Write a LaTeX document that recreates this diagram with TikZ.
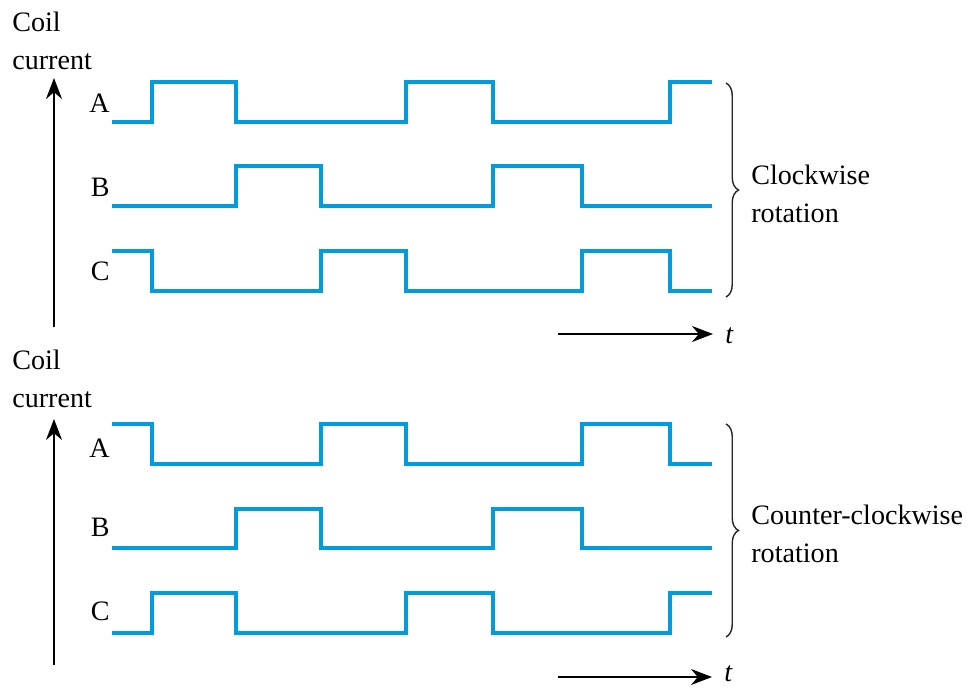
\documentclass[tikz,border=0pt]{standalone}
\usepackage{fontspec}
\setmainfont{Liberation Serif}
\usetikzlibrary{arrows.meta,decorations.pathreplacing}
\definecolor{wireblue}{RGB}{0,156,222}
\tikzset{
  wave/.style={wireblue,line width=2.2pt},
  axisarrow/.style={line width=1.1pt,-{Stealth[length=0.42cm,width=0.32cm]}},
  lbl/.style={font=\fontsize{16}{21.5}\selectfont,inner sep=0pt},
  rotbrace/.style={decorate,decoration={brace,amplitude=0.25cm},line width=0.8pt,black!85}
}
\begin{document}
\begin{tikzpicture}[x=0.02cm,y=-0.02cm]
    \useasboundingbox (0,0) rectangle (974,687);

    % clockwise
    \node[lbl,align=left,anchor=base west] (coilcw) at (12,69) {Coil\\current};
    \draw[axisarrow] (54,327) -- (54,78);

    \node[lbl,anchor=base east] (acw) at (110,112) {A};
    \node[lbl,anchor=base east] (bcw) at (110,196) {B};
    \node[lbl,anchor=base east] (ccw) at (110,280) {C};

    \draw[wave] (112,122) -- (152,122) -- (152,82) -- (236,82) -- (236,122) -- (406,122) -- (406,82) -- (493,82) -- (493,122) -- (670,122) -- (670,82) -- (712,82);
    \draw[wave] (112,206) -- (236,206) -- (236,166) -- (321,166) -- (321,206) -- (493,206) -- (493,166) -- (582,166) -- (582,206) -- (712,206);
    \draw[wave] (112,251) -- (152,251) -- (152,291) -- (321,291) -- (321,251) -- (406,251) -- (406,291) -- (582,291) -- (582,251) -- (670,251) -- (670,291) -- (712,291);

    \draw[rotbrace] (726,83) -- (726,297);
    \node[lbl,align=left,anchor=base west] (rotcw) at (751,222) {Clockwise\\rotation};

    \draw[axisarrow] (558,334) -- (713,334);
    \node[lbl,anchor=base west] (tcw) at (725,343) {\textit{t}};

    % counter-clockwise
    \node[lbl,align=left,anchor=base west] (coilccw) at (12,407) {Coil\\current};
    \draw[axisarrow] (54,665) -- (54,419);

    \node[lbl,anchor=base east] (accw) at (110,457) {A};
    \node[lbl,anchor=base east] (bccw) at (110,536) {B};
    \node[lbl,anchor=base east] (cccw) at (110,620) {C};

    \draw[wave] (112,424) -- (152,424) -- (152,464) -- (321,464) -- (321,424) -- (406,424) -- (406,464) -- (582,464) -- (582,424) -- (670,424) -- (670,464) -- (712,464);
    \draw[wave] (112,548) -- (236,548) -- (236,509) -- (321,509) -- (321,548) -- (493,548) -- (493,509) -- (582,509) -- (582,548) -- (712,548);
    \draw[wave] (112,633) -- (152,633) -- (152,593) -- (236,593) -- (236,633) -- (406,633) -- (406,593) -- (493,593) -- (493,633) -- (670,633) -- (670,593) -- (712,593);

    \draw[rotbrace] (726,424) -- (726,637);
    \node[lbl,align=left,anchor=base west] (rotccw) at (751,562) {Counter-clockwise\\rotation};

    \draw[axisarrow] (558,677) -- (712,677);
    \node[lbl,anchor=base west] (tccw) at (724,681) {\textit{t}};
\end{tikzpicture}
\end{document}
